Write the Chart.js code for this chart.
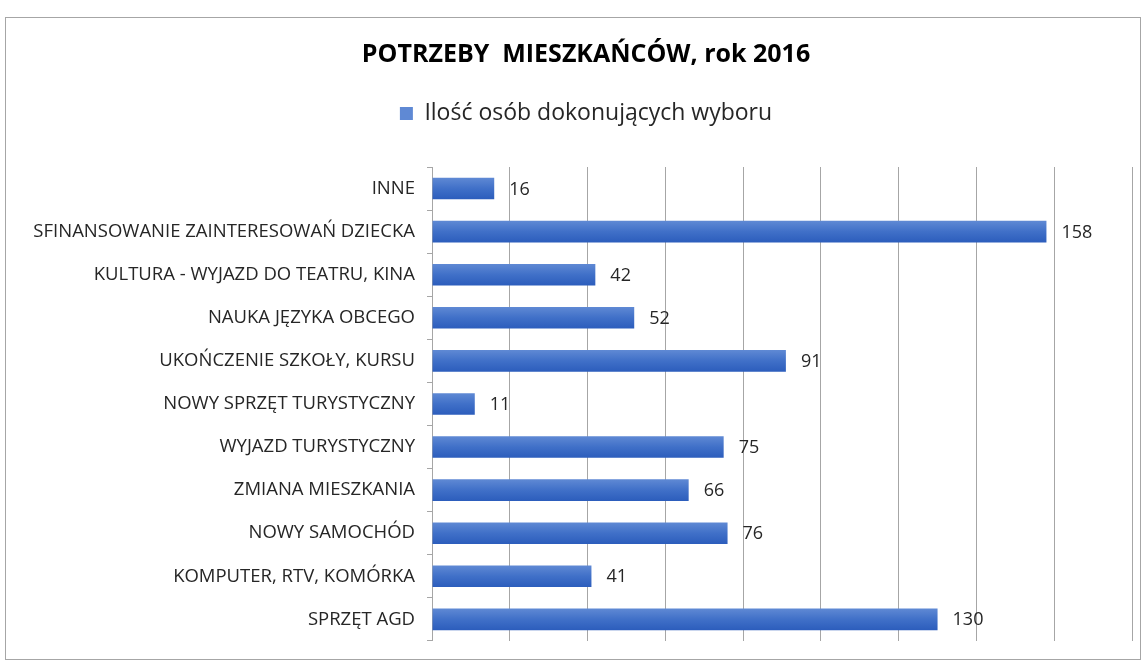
<!DOCTYPE html>
<html>
<head>
<meta charset="utf-8">
<script src="https://cdn.jsdelivr.net/npm/chart.js@4"></script>
<style>
  body { margin: 0; background: #fff; }
  #wrap { width: 1148px; height: 664px; }
</style>
</head>
<body>
<div id="wrap"><canvas id="needsChart" width="1148" height="664"></canvas></div>
<script>
// categories from top to bottom, as in the source chart
const categories = [
  'INNE',
  'SFINANSOWANIE ZAINTERESOWAŃ DZIECKA',
  'KULTURA - WYJAZD DO TEATRU, KINA',
  'NAUKA JĘZYKA OBCEGO',
  'UKOŃCZENIE SZKOŁY, KURSU',
  'NOWY SPRZĘT TURYSTYCZNY',
  'WYJAZD TURYSTYCZNY',
  'ZMIANA MIESZKANIA',
  'NOWY SAMOCHÓD',
  'KOMPUTER, RTV, KOMÓRKA',
  'SPRZĘT AGD'
];
const counts = [16, 158, 42, 52, 91, 11, 75, 66, 76, 41, 130];
const seriesName = 'Ilość osób dokonujących wyboru';
const chartTitle = 'POTRZEBY  MIESZKAŃCÓW, rok 2016';

const FONT = "'Open Sans', 'Noto Sans', sans-serif";

// outer frame around the whole chart
const framePlugin = {
  id: 'frame',
  beforeDraw(chart) {
    const { ctx } = chart;
    ctx.save();
    ctx.strokeStyle = '#a6a6a6';
    ctx.lineWidth = 1;
    ctx.strokeRect(5.5, 17.5, 1135, 642);
    ctx.restore();
  }
};

// extra space under the legend, and let the long category labels
// run into the left padding (title/legend stay centred a bit to the right)
const layoutTweaks = {
  id: 'layoutTweaks',
  beforeInit(chart) {
    const fit = chart.legend.fit;
    chart.legend.fit = function () {
      fit.bind(chart.legend)();
      this.height += 32;
    };
  },
  afterLayout(chart) {
    chart.scales.y.left = 0;
  }
};

// value labels to the right of each bar
const valueLabels = {
  id: 'valueLabels',
  afterDatasetsDraw(chart) {
    const { ctx } = chart;
    const meta = chart.getDatasetMeta(0);
    ctx.save();
    ctx.font = '18px ' + FONT;
    ctx.fillStyle = '#262626';
    ctx.textAlign = 'left';
    ctx.textBaseline = 'middle';
    meta.data.forEach((bar, i) => {
      ctx.fillText(String(counts[i]), bar.x + 15, bar.y + 1);
    });
    ctx.restore();
  }
};

function barFill(context) {
  const chart = context.chart;
  const ys = chart.scales && chart.scales.y;
  if (!ys || context.dataIndex === undefined || !ys.height) return '#3a69c6';
  const yc = ys.getPixelForValue(context.dataIndex);
  const h = ys.height / categories.length * 0.5;
  const g = chart.ctx.createLinearGradient(0, yc - h / 2, 0, yc + h / 2);
  g.addColorStop(0, '#5f89d4');
  g.addColorStop(0.5, '#4070c8');
  g.addColorStop(1, '#2c5dbc');
  return g;
}

new Chart(document.getElementById('needsChart'), {
  type: 'bar',
  data: {
    labels: categories,
    datasets: [{
      label: seriesName,
      data: counts,
      backgroundColor: barFill,
      borderWidth: 0,
      barPercentage: 0.5,
      categoryPercentage: 1
    }]
  },
  options: {
    indexAxis: 'y',
    responsive: false,
    animation: false,
    layout: { padding: { left: 40, right: 16, top: 0, bottom: 11 } },
    scales: {
      x: {
        min: 0,
        max: 180,
        ticks: { display: false, stepSize: 20 },
        grid: { color: '#a6a6a6', drawTicks: false },
        border: { display: false }
      },
      y: {
        ticks: { color: '#262626', font: { family: FONT, size: 18.5 }, padding: 12 },
        grid: { offset: true, drawOnChartArea: false, color: '#a6a6a6', tickLength: 5 },
        border: { color: '#a6a6a6' },
        afterFit(scale) { scale.width = 392; }
      }
    },
    plugins: {
      title: {
        display: true,
        text: chartTitle,
        color: '#000',
        font: { family: FONT, size: 25, weight: 'bold' },
        padding: { top: 40, bottom: 22 }
      },
      legend: {
        display: true,
        labels: {
          color: '#262626',
          font: { family: FONT, size: 23 },
          boxWidth: 13,
          boxHeight: 13,
          padding: 10
        }
      },
      tooltip: { enabled: false }
    }
  },
  plugins: [framePlugin, layoutTweaks, valueLabels]
});
</script>
</body>
</html>
